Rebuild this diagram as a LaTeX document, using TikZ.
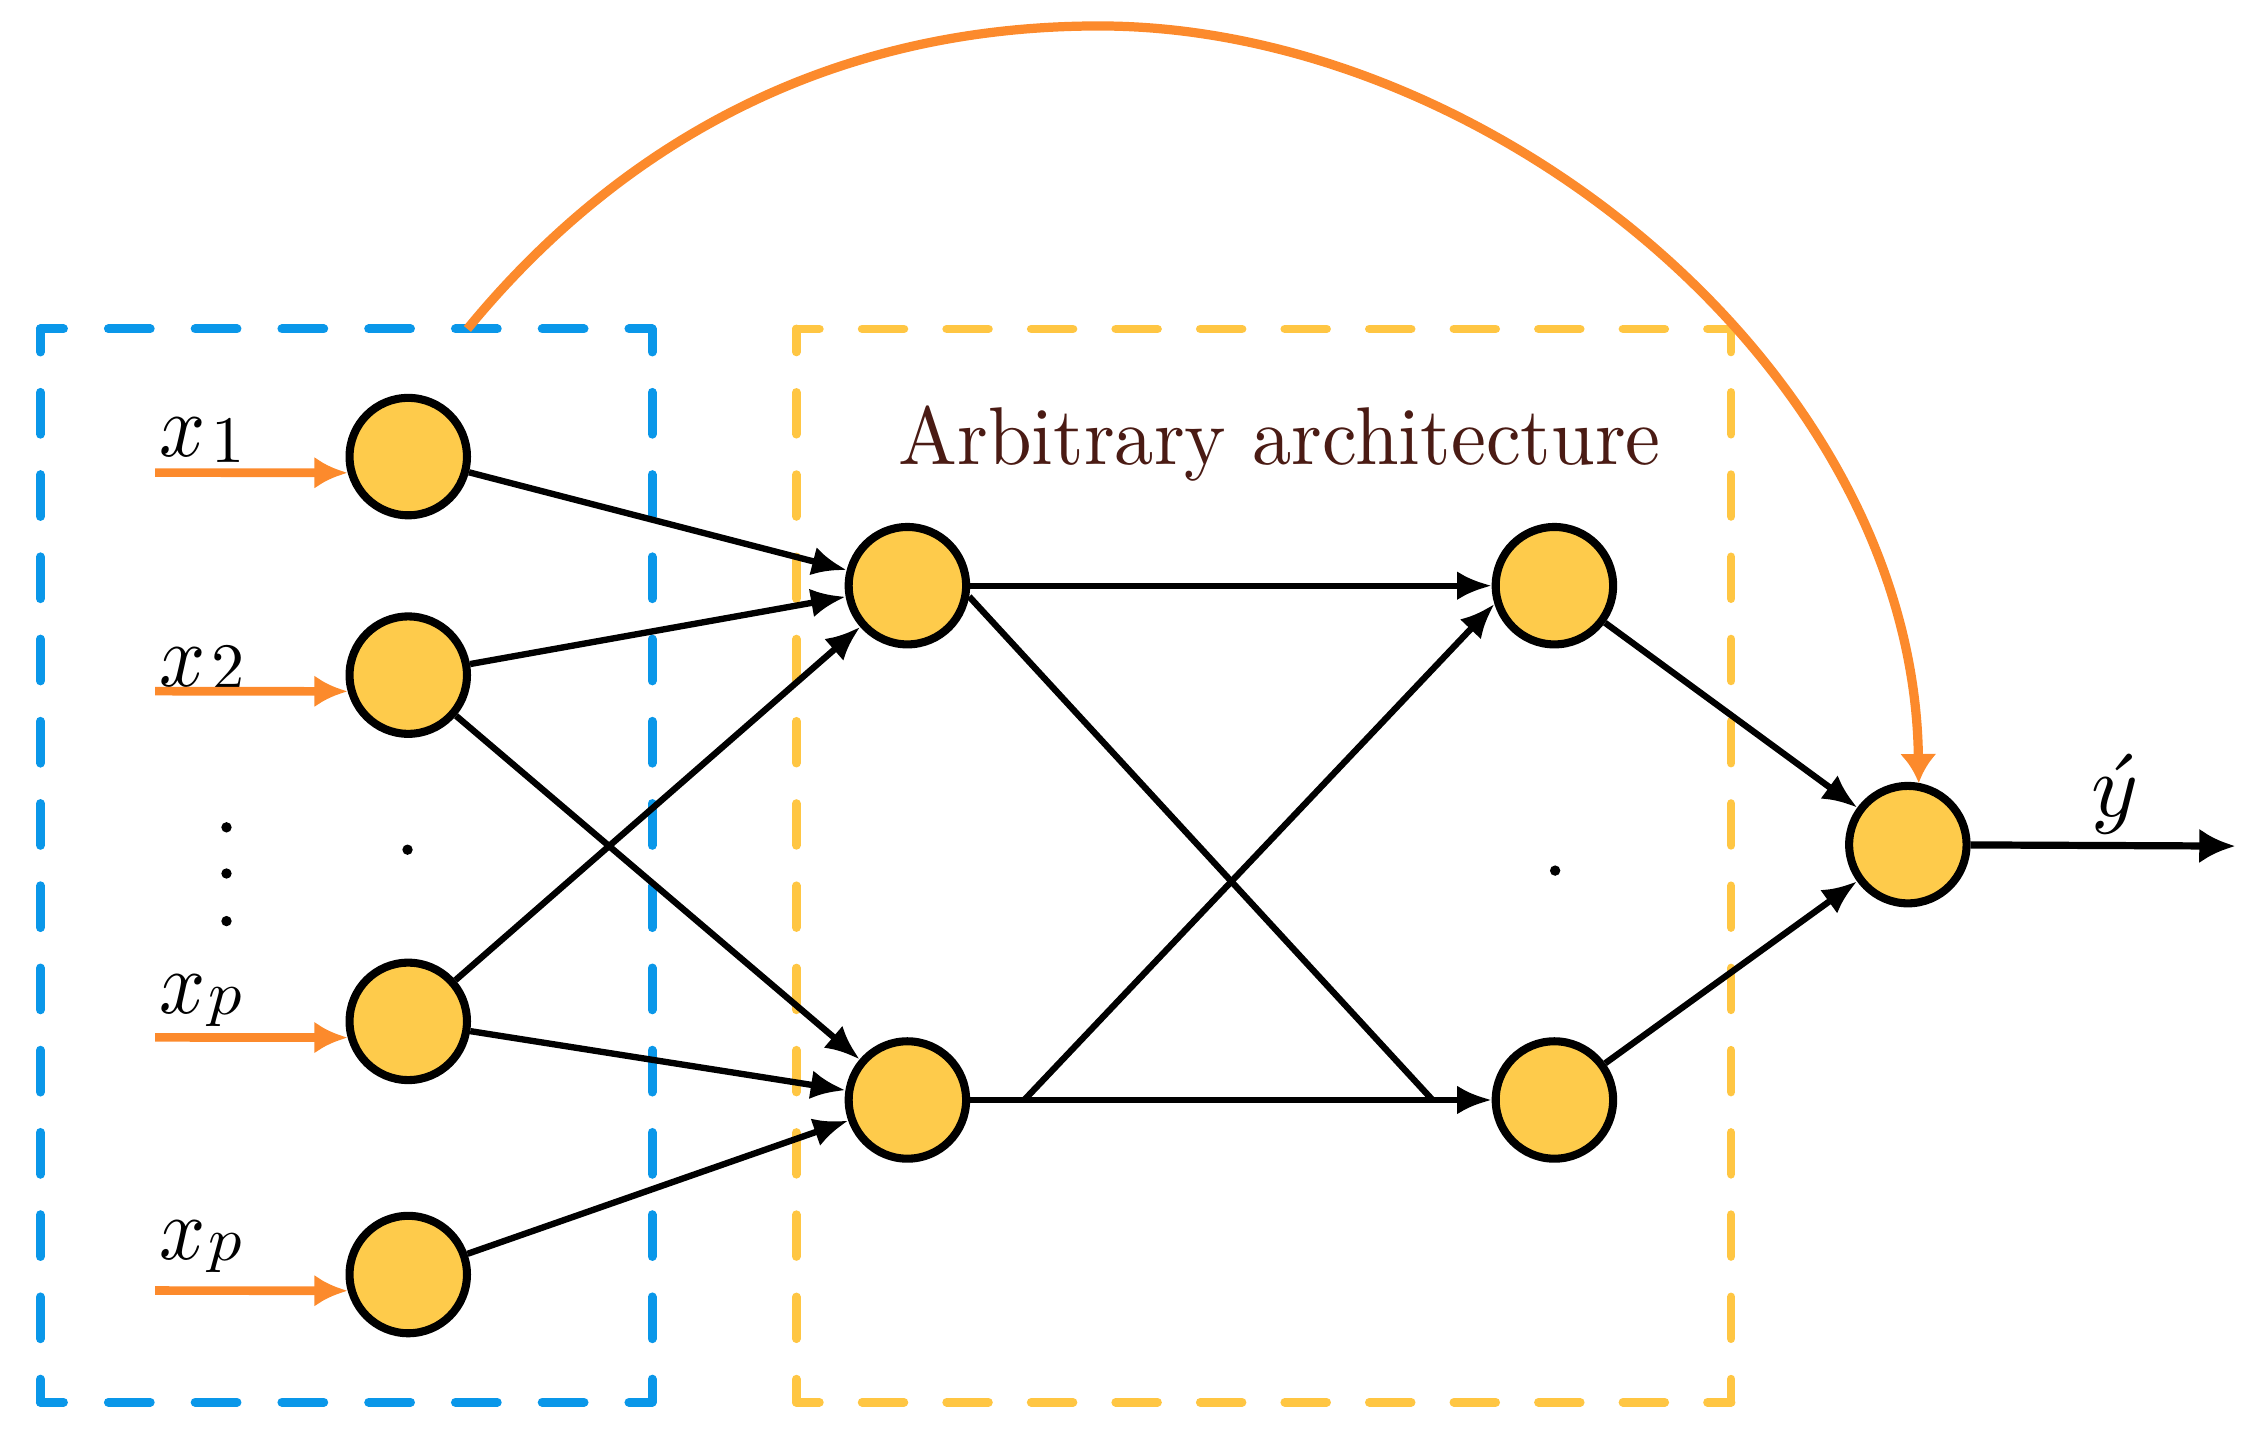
\documentclass[tikz,border=0pt]{standalone}
\usepackage{graphicx}
\usetikzlibrary{arrows.meta}
\definecolor{nodefill}{HTML}{FECB4B}
\definecolor{boxblue}{HTML}{0A97E9}
\definecolor{boxyellow}{HTML}{FFC643}
\definecolor{skiporange}{HTML}{FC8A2C}
\definecolor{textbrown}{HTML}{4A1B14}
\newcommand{\bigx}{\scalebox{2.8}[3.1]{$x$}}
\newcommand{\subdigit}[1]{\scalebox{2.3}{$#1$}}
\newcommand{\subp}{\scalebox{2.3}[2.15]{$p$}}
\begin{document}
\begin{tikzpicture}[x=0.5pt,y=-0.5pt,
  neuron/.style={circle, fill=nodefill, draw=black, line width=2.8pt, minimum size=40.7pt, inner sep=0pt},
  edge/.style={line width=2.2pt, -{Latex[length=12pt,width=10pt]}},
  plainedge/.style={line width=2.2pt},
  inarrow/.style={draw=skiporange, line width=3pt, -{Latex[length=11.5pt,width=11pt,fill=skiporange]}},
  skiparrow/.style={draw=skiporange, line width=3.2pt, -{Latex[length=10pt,width=12.8pt,fill=skiporange]}},
  outarrow/.style={line width=2.5pt, -{Latex[length=12.5pt,width=12pt]}},
  lbl/.style={anchor=base west, inner sep=0pt},
  dotmark/.style={circle, fill=black, inner sep=0pt, minimum size=3.6pt},
  bluebox/.style={draw=boxblue, line width=3.1pt, line cap=round},
  yellowbox/.style={draw=boxyellow, line width=3pt, line cap=round},
  hdash/.style={dash pattern=on 14.5pt off 15.57pt, dash phase=6.5pt},
  vdash/.style={dash pattern=on 14.5pt off 14pt, dash phase=6.5pt},
  ydash/.style={dash pattern=on 14.5pt off 14.8pt, dash phase=6.5pt}]
\useasboundingbox (0,0) rectangle (1568,994);
% dashed boxes (each side starts and ends with a dash at its corners)
\coordinate (bTL) at (28,228);  \coordinate (bTR) at (452,228);
\coordinate (bBL) at (28,972);  \coordinate (bBR) at (452,972);
\coordinate (yTL) at (552,228); \coordinate (yTR) at (1200,228);
\coordinate (yBL) at (552,972); \coordinate (yBR) at (1200,972);
\draw[bluebox,hdash] (bTL) -- (bTR);
\draw[bluebox,hdash] (bBL) -- (bBR);
\draw[bluebox,vdash] (bTL) -- (bBL);
\draw[bluebox,vdash] (bTR) -- (bBR);
\draw[yellowbox,ydash] (yTL) -- (yTR);
\draw[yellowbox,ydash] (yBL) -- (yBR);
\draw[yellowbox,vdash] (yTL) -- (yBL);
\draw[yellowbox,vdash] (yTR) -- (yBR);
% title
\node[text=textbrown, anchor=base, inner sep=0pt] (title) at (887,321.8) {\scalebox{2.72}[2.84]{Arbitrary architecture}};
% neurons
\node[neuron] (i1) at (283,316.5) {};
\node[neuron] (i2) at (283,468) {};
\node[neuron] (i3) at (283,708) {};
\node[neuron] (i4) at (283,883.5) {};
\node[neuron] (h1a) at (629,406) {};
\node[neuron] (h1b) at (629,762.5) {};
\node[neuron] (h2a) at (1077.5,406) {};
\node[neuron] (h2b) at (1077.5,762.5) {};
\node[neuron] (out) at (1322.5,585.5) {};
% input labels
\node[lbl] (l1) at (110,316.6) {\bigx\kern2pt\raisebox{-2pt}{\subdigit{1}}};
\node[lbl] (l2) at (110,476) {\bigx\kern2pt\raisebox{-1pt}{\subdigit{2}}};
\node[lbl] (l3) at (110,702.4) {\bigx\kern1.2pt\raisebox{-0.5pt}{\subp}};
\node[lbl] (l4) at (110,873) {\bigx\kern1.2pt\raisebox{-0.5pt}{\subp}};
% input arrows
\coordinate (s1) at (107.5,327.6);
\coordinate (s2) at (107.5,479.1);
\coordinate (s3) at (107.5,719.1);
\coordinate (s4) at (107.5,894.6);
\draw[inarrow] (s1) -- (i1.195);
\draw[inarrow] (s2) -- (i2.195);
\draw[inarrow] (s3) -- (i3.195);
\draw[inarrow] (s4) -- (i4.195);
% dots
\node[dotmark] (d1) at (157,573.5) {};
\node[dotmark] (d2) at (157,605.5) {};
\node[dotmark] (d3) at (157,638.5) {};
\node[dotmark] (d4) at (282.5,589) {};
\node[dotmark] (d5) at (1078,603.5) {};
% input -> hidden 1
\draw[edge] (i1) -- (h1a);
\draw[edge] (i2) -- (h1a);
\draw[edge] (i2) -- (h1b);
\draw[edge] (i3) -- (h1a);
\draw[edge] (i3) -- (h1b);
\draw[edge] (i4) -- (h1b);
% hidden 1 -> hidden 2
\draw[edge] (h1a) -- (h2a);
\draw[edge] (h1b) -- (h2b);
\coordinate (j1) at (710,762.5);
\coordinate (j2) at (993,762.5);
\draw[edge] (j1) -- (h2a.197);
\draw[plainedge] (h1a.350) -- (j2);
% hidden 2 -> output
\draw[edge] (h2a) -- (out);
\draw[edge] (h2b) -- (out);
% output arrow
\coordinate (yend) at (1549.5,586.5);
\draw[outarrow] (out) -- (yend);
\node[anchor=base, inner sep=0pt] (yhat) at (1466,566) {\scalebox{3.1}{$\acute{y}$}};
% skip connection
\coordinate (arcstart) at (324,228);
\draw[skiparrow] (arcstart) .. controls (420,111) and (562,18) .. (762,18)
   .. controls (1030,18) and (1326,255) .. (out.80);
\end{tikzpicture}
\end{document}
